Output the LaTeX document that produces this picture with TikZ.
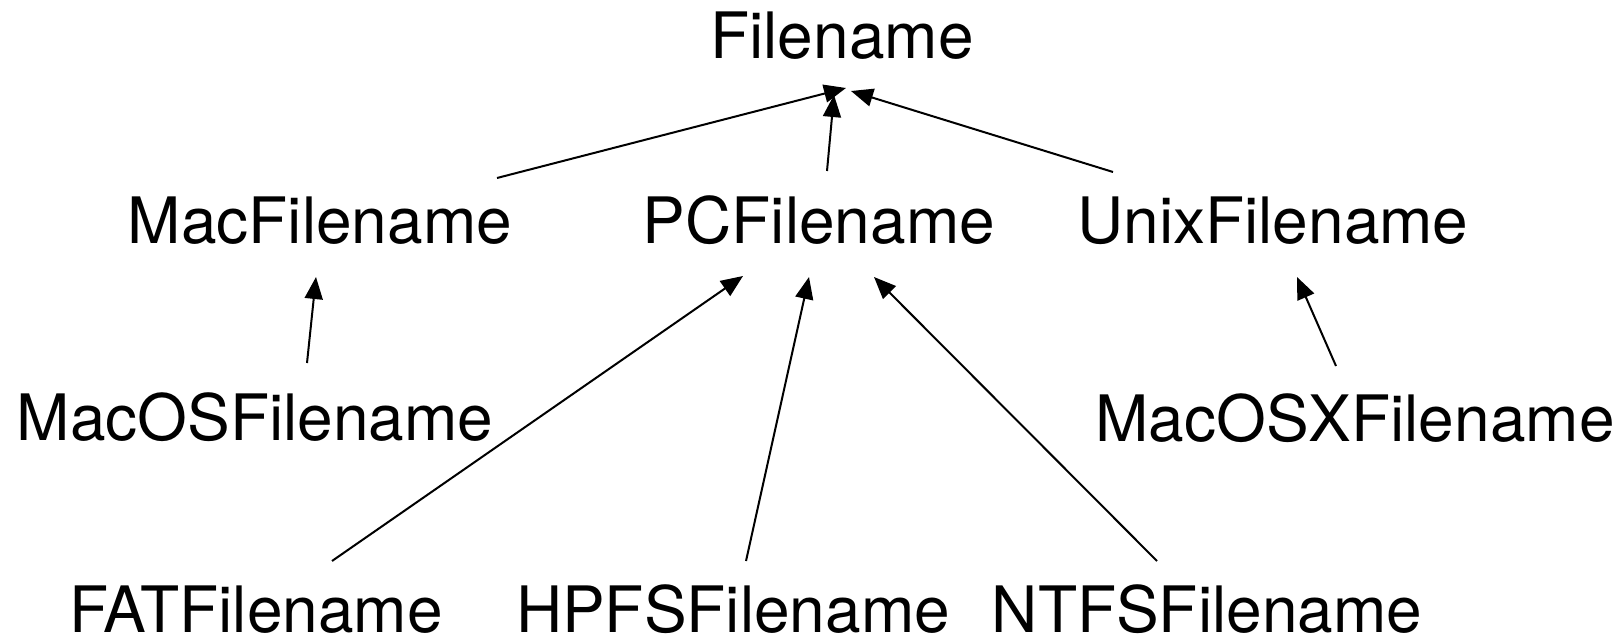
\documentclass[tikz,border=0pt]{standalone}
\usepackage{fontspec}
\setmainfont{TeX Gyre Heros}
\usetikzlibrary{arrows.meta,calc}
\begin{document}
\begin{tikzpicture}[x=1pt,y=-1pt,
  cls/.style={anchor=base,inner sep=0pt,font=\fontsize{64}{76}\selectfont},
  arr/.style={-{Triangle[length=22pt,width=18pt]},line width=2pt}]
\useasboundingbox (0,0) rectangle (1624,639);
\node[cls] (F) at (842,59) {Filename};
\node[cls] (Mac) at (320,243) {MacFilename};
\node[cls] (PC) at (819,243) {PCFilename};
\node[cls] (Unix) at (1273,243) {UnixFilename};
\node[cls] (MacOS) at (255,440) {MacOSFilename};
\node[cls] (MacOSX) at (1355,441) {MacOSXFilename};
\node[cls] (FAT) at (256,632) {FATFilename};
\node[cls] (HPFS) at (733,632) {HPFSFilename};
\node[cls] (NTFS) at (1207,632) {NTFSFilename};
\draw[arr] ($(Mac.base)+(177,-65)$) -- ($(F.base)+(4,29)$);
\draw[arr] ($(PC.base)+(8,-72)$) -- ($(F.base)+(-8,36)$);
\draw[arr] ($(Unix.base)+(-160,-71)$) -- ($(F.base)+(9,32)$);
\draw[arr] ($(MacOS.base)+(52,-77)$) -- ($(Mac.base)+(-4,34)$);
\draw[arr] ($(MacOSX.base)+(-19,-75)$) -- ($(Unix.base)+(24,34)$);
\draw[arr] ($(FAT.base)+(76,-71)$) -- ($(PC.base)+(-76,33)$);
\draw[arr] ($(HPFS.base)+(13,-71)$) -- ($(PC.base)+(-10,34)$);
\draw[arr] ($(NTFS.base)+(-50,-71)$) -- ($(PC.base)+(55,34)$);
\end{tikzpicture}
\end{document}
